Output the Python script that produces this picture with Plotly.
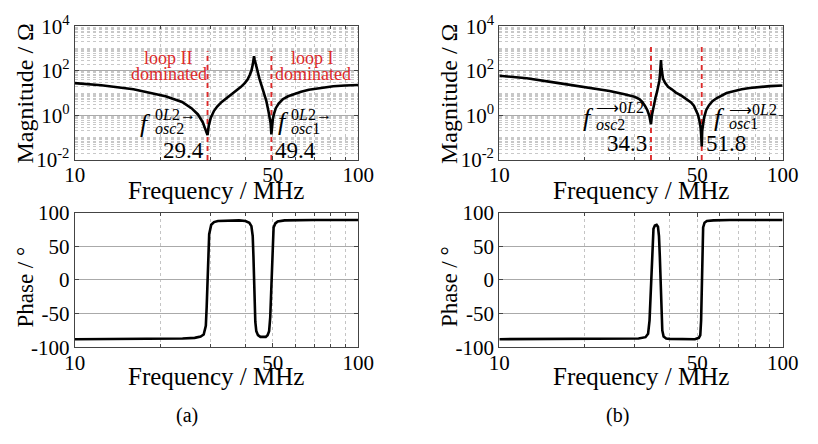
import math
import plotly.graph_objects as go

# ---------------- data ----------------
# (a) magnitude
fa_mag = [10, 12.4, 16.1, 20.9, 23.9, 25.8, 27.2, 28.3, 28.8, 29.1, 29.4, 29.7, 30.2, 31.0, 31.8,
          33.0, 34.4, 35.8, 37.2, 38.5, 39.8, 40.7, 41.4, 42.0, 42.5, 42.75, 42.9, 43.1, 43.4, 43.6,
          44.0, 44.8, 45.6, 46.5, 47.4, 48.2, 48.8, 49.1, 49.4, 49.7, 50.0, 50.4, 51.2, 52.4, 54.2,
          56.6, 59.5, 62.9, 67, 71.7, 76.5, 81.7, 90, 100]
za_mag = [28, 22.4, 14.8, 7.2, 4.0, 2.1, 1.1, 0.49, 0.26, 0.17, 0.13, 0.35, 0.79, 1.6, 2.5,
          4.0, 6.0, 8.7, 12.5, 18.5, 28, 40, 63, 100, 200, 330, 450, 330, 220, 170,
          100, 46, 22, 10, 4.5, 1.6, 0.8, 0.45, 0.14, 0.4, 0.7, 1.1, 2.1, 3.4, 5.3,
          7.2, 9.3, 11.4, 14, 16.3, 18.3, 20.3, 22, 23]
# (a) phase
fa_ph = [10, 15, 20, 24, 26.5, 27.8, 28.5, 29.0, 29.2, 29.4, 29.6, 29.8, 30.3, 31, 32, 35, 38, 40,
         41.3, 42.0, 42.45, 42.7, 42.9, 43.1, 43.35, 43.7, 44.3, 45.2, 46.2, 47.2, 47.9, 48.5,
         48.95, 49.2, 49.4, 49.6, 49.85, 50.3, 51, 52, 55, 60, 70, 100]
pa_ph = [-88, -88, -87.5, -87, -86, -84, -81, -68, -40, 0, 40, 68, 82, 86, 87.5, 88.5, 88.5, 87.5,
         85, 80, 65, 35, 0, -35, -62, -76, -82, -84.5, -85, -84.5, -82, -76,
         -55, -30, 0, 35, 62, 78, 84, 87, 88.5, 89, 89, 89]
# (b) magnitude
fb_mag = [10, 12.5, 16.2, 21.1, 24.5, 27.4, 28.9, 30.0, 31.2, 32.0, 32.7, 33.3, 33.8, 34.05, 34.3,
          34.55, 34.9, 35.2, 35.6, 36.0, 36.4, 36.7, 36.9, 37.05, 37.2, 37.35, 37.5, 37.8, 38.5, 39.4,
          40.6, 42.0, 43.9, 45.6, 47.5, 48.6, 49.4, 50.2, 50.8, 51.3, 51.6, 51.8, 52.0, 52.3, 52.8,
          53.7, 54.9, 56.5, 58.6, 63.4, 67.5, 71.7, 76.5, 81.7, 90, 100]
zb_mag = [60, 46, 28, 17.4, 12.5, 9.1, 7.8, 6.8, 5.4, 3.9, 2.6, 1.7, 1.0, 0.6, 0.4,
          1.0, 2.1, 3.5, 6.5, 11, 20, 35, 70, 140, 300, 130, 75, 45, 28, 19,
          14.8, 10.5, 7.7, 5.5, 3.8, 2.7, 1.8, 1.1, 0.6, 0.3, 0.12, 0.04, 0.2, 0.45, 0.8,
          1.7, 2.8, 4.3, 6.0, 10, 12.5, 14.8, 17, 18.7, 20.5, 22]
# (b) phase
fb_ph = [10, 20, 28, 31, 32.8, 33.5, 33.9, 34.1, 34.3, 34.5, 34.7, 35.0, 35.4, 35.9, 36.3, 36.6,
         36.85, 37.1, 37.35, 37.6, 38.0, 38.8, 40, 45, 49, 50.6, 51.2, 51.55, 51.8, 52.05, 52.4,
         53, 54, 57, 65, 100]
pb_ph = [-88, -88, -87.5, -87, -85, -80, -60, -35, 0, 38, 62, 76, 81, 82, 79, 65,
         35, -10, -50, -75, -84, -87, -87.5, -88, -88, -86, -82, -60, 0, 55, 78,
         85, 87.5, 88.5, 89, 89]

# resonance markers
fa_res = [29.4, 49.4]
fb_res = [34.3, 51.8]
res_labels_a = ["29.4", "49.4"]
res_labels_b = ["34.3", "51.8"]
dash_bottom = 1e-2
dash_top_a = 760
dash_top_b = 1170

# tick labels
x_tickvals = [10, 50, 100]
x_ticktext = ["10", "50", "100"]
mag_tickvals = [1e-2, 1, 1e2, 1e4]
mag_ticktext = ["10<sup>-2</sup>", "10<sup>0</sup>", "10<sup>2</sup>", "10<sup>4</sup>"]
ph_tickvals = [-100, -50, 0, 50, 100]
ph_ticktext = ["-100", "-50", "0", "50", "100"]

# ---------------- style ----------------
FONT = "Liberation Serif"
RED = "#dc2a2a"
W, H = 818, 444


def px_x(p):
    return p / W


def px_y(p):
    return 1 - p / H


dom_xl = [px_x(66), px_x(359)]
dom_xr = [px_x(505), px_x(798)]
dom_yt = [px_y(155), px_y(13)]
dom_yb = [px_y(354), px_y(211)]

fig = go.Figure()

line_style = dict(color="black", width=2.6)
dash_style = dict(color=RED, width=1.9, dash="5px,4px")
for f in fa_res:
    fig.add_trace(go.Scatter(x=[f, f], y=[dash_bottom, dash_top_a], mode="lines",
                             line=dash_style, xaxis="x", yaxis="y"))
for f in fb_res:
    fig.add_trace(go.Scatter(x=[f, f], y=[dash_bottom, dash_top_b], mode="lines",
                             line=dash_style, xaxis="x3", yaxis="y3"))
fig.add_trace(go.Scatter(x=fa_mag, y=za_mag, mode="lines", line=line_style, xaxis="x", yaxis="y"))
fig.add_trace(go.Scatter(x=fa_ph, y=pa_ph, mode="lines", line=line_style, xaxis="x2", yaxis="y2"))
fig.add_trace(go.Scatter(x=fb_mag, y=zb_mag, mode="lines", line=line_style, xaxis="x3", yaxis="y3"))
fig.add_trace(go.Scatter(x=fb_ph, y=pb_ph, mode="lines", line=line_style, xaxis="x4", yaxis="y4"))

tickfont = dict(family=FONT, size=21, color="black")
axcol = "#444444"

x_minor = [20, 30, 40, 50, 60, 70, 80, 90]


def xaxis(domain, anchor):
    return dict(type="log", range=[1, 2], domain=domain, anchor=anchor,
                tickvals=x_tickvals, ticktext=x_ticktext, tickfont=tickfont,
                ticks="inside", ticklen=4, tickcolor=axcol, showgrid=False,
                ticklabelstandoff=-4,
                showline=True, linecolor=axcol, linewidth=1.3, mirror="ticks", zeroline=False,
                minor=dict(tickvals=x_minor, ticks="inside", ticklen=3, tickcolor=axcol,
                           showgrid=True, gridcolor="#c4c4c4", griddash="dot", gridwidth=1))


mag_minor = [m * 10 ** e for e in range(-2, 4) for m in range(2, 10)] + [0.1, 10, 1000]


def magaxis(domain, anchor):
    return dict(type="log", range=[-2, 4], domain=domain, anchor=anchor,
                tickvals=mag_tickvals, ticktext=mag_ticktext, tickfont=tickfont,
                ticks="inside", ticklen=4, tickcolor=axcol,
                showgrid=True, gridcolor="#aaaaaa", gridwidth=1,
                showline=True, linecolor=axcol, linewidth=1.3, mirror="ticks", zeroline=False,
                minor=dict(tickvals=mag_minor, ticks="", showgrid=True,
                           gridcolor="#c8c8c8", griddash="dot", gridwidth=1))


def phaxis(domain, anchor):
    return dict(range=[-100, 100], domain=domain, anchor=anchor,
                tickvals=ph_tickvals, ticktext=ph_ticktext, tickfont=tickfont,
                ticks="inside", ticklen=4, tickcolor=axcol,
                showgrid=True, gridcolor="#aaaaaa", gridwidth=1,
                showline=True, linecolor=axcol, linewidth=1.3, mirror="ticks", zeroline=False)


fig.update_layout(
    width=W, height=H, margin=dict(l=0, r=0, t=0, b=0),
    paper_bgcolor="white", plot_bgcolor="white", showlegend=False,
    font=dict(family=FONT, color="black"),
    xaxis=xaxis(dom_xl, "y"), yaxis=magaxis(dom_yt, "x"),
    xaxis2=xaxis(dom_xl, "y2"), yaxis2=phaxis(dom_yb, "x2"),
    xaxis3=xaxis(dom_xr, "y3"), yaxis3=magaxis(dom_yt, "x3"),
    xaxis4=xaxis(dom_xr, "y4"), yaxis4=phaxis(dom_yb, "x4"),
)

ann = []


def pann(text, cx, cy, size, color="black", angle=0, xanchor="center"):
    ann.append(dict(text=text, x=px_x(cx), y=px_y(cy), xref="paper", yref="paper",
                    showarrow=False, textangle=angle, xanchor=xanchor, yanchor="middle",
                    font=dict(family=FONT, size=size, color=color)))


# axis titles
for cx in [212.5, 651.5]:
    pann("Frequency / MHz", cx, 187, 25)
    pann("Frequency / MHz", cx, 385, 25)
for cx in [14, 453]:
    pann("Magnitude / Ω", cx, 85, 24, angle=-90)
    pann("Phase / °", cx, 290, 23, angle=-90)
pann("(a)", 182, 427, 20)
pann("(b)", 627, 427, 20)

# red region labels
for cx, l1 in [(163, "loop II"), (312, "loop I")]:
    pann(l1, cx, 47, 18, color=RED)
    pann("dominated", cx, 63.5, 18, color=RED)

# resonance numbers
nfont = dict(family=FONT, size=23, color="black")
for f, lab, side in zip(fa_res, res_labels_a, ["right", "left"]):
    ann.append(dict(text=lab, x=math.log10(f), y=-1.58, xref="x", yref="y",
                    xanchor=side, yanchor="middle", xshift=(-2 if side == "right" else 2),
                    showarrow=False, font=nfont))
for f, lab, side in zip(fb_res, res_labels_b, ["right", "left"]):
    ann.append(dict(text=lab, x=math.log10(f), y=-1.26, xref="x3", yref="y3",
                    xanchor=side, yanchor="middle", xshift=(-2 if side == "right" else 2),
                    showarrow=False, font=nfont))

# f symbols
fsyms = [
    (139.5, 116, 147, 107, 147, 122, "0<i>L</i>2→", "2"),
    (282, 114, 288, 107, 288, 122, "0<i>L</i>2→", "1"),
    (597, 110, 603, 99, 603, 117, "⟶0<i>L</i>2", "2"),
    (733, 110, 740, 101, 740, 116, "⟶0<i>L</i>2", "1"),
]
for fx, fy, supx, supy, subx, suby, suptxt, idx in fsyms:
    pann("<i>f</i>", fx, fy, 26)
    pann(suptxt, supx, supy, 16, xanchor="left")
    pann("<i>osc</i>" + idx, subx, suby, 16, xanchor="left")

fig.update_layout(annotations=ann)
fig.write_html("out.html")
